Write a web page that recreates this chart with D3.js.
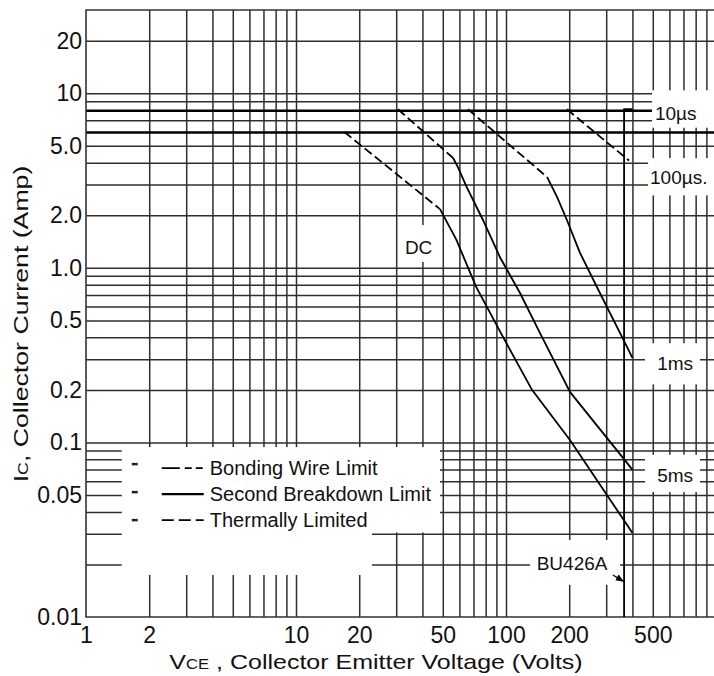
<!DOCTYPE html>
<html>
<head>
<meta charset="utf-8">
<script src="https://cdn.jsdelivr.net/npm/d3@7"></script>
<style>
body { margin: 0; background: #fff; }
text { font-family: "Liberation Sans", Arial, sans-serif; fill: #111; }
</style>
</head>
<body>
<div id="chart-area"></div>
<script>

// Data

var xTickValues = [1, 2, 10, 20, 50, 100, 200, 500];
var yTickValues = [20, 10, 5, 2, 1, 0.5, 0.2, 0.1, 0.05, 0.01];
var yTickLabels = ["20", "10", "5.0", "2.0", "1.0", "0.5", "0.2", "0.1", "0.05", "0.01"];

var xGrid = [2, 3, 4, 5, 6, 7, 8, 9, 10, 20, 30, 40, 50, 60, 70, 80, 90, 100,
    200, 300, 400, 500, 600, 700, 800, 900];
var yGrid = [0.02, 0.03, 0.04, 0.05, 0.06, 0.07, 0.08, 0.09,
    0.1, 0.2, 0.3, 0.4, 0.5, 0.6, 0.7, 0.8, 0.9,
    1, 2, 3, 4, 5, 6, 7, 8, 9, 10, 20];
var yGridHeavy = [6, 8];

// [VCE, IC] points of each limit segment
var dcThermal = [[17, 6], [48.5, 2.17]];
var dcSecond = [[48.5, 2.17], [58, 1.45], [72, 0.78], [97, 0.40], [133, 0.2], [202, 0.103], [372, 0.0345], [400, 0.0303]];
var ms5Thermal = [[30.6, 8.1], [56, 4.26]];
var ms5Second = [[56, 4.26], [59, 3.78], [65, 2.9], [77.7, 1.88], [93.6, 1.15], [116.6, 0.718], [145, 0.424], [202, 0.194], [377, 0.0763], [400, 0.0696]];
var ms1Thermal = [[65.9, 8.1], [157, 3.31]];
var ms1Second = [[157, 3.31], [175, 2.55], [195, 1.88], [225, 1.22], [280, 0.718], [349, 0.424], [400, 0.305]];
var us100Thermal = [[195, 8.1], [385, 4.12]];
var bu426aLimit = [[400, 8.1], [365, 8.1], [365, 0.01]];

var curveLabels = ["10\u00b5s", "100\u00b5s.", "1ms", "5ms", "DC", "BU426A"];
var legendLabels = ["Bonding Wire Limit", "Second Breakdown Limit", "Thermally Limited"];


// SVG drawing area

var margin = {top: 10, left: 86};
var width = 630,
    height = 607;

var svg = d3.select("#chart-area").append("svg")
    .attr("width", 714)
    .attr("height", 676)
    .style("display", "block");

svg.append("rect")
    .attr("width", 714)
    .attr("height", 676)
    .attr("fill", "#fff");

var g = svg.append("g")
    .attr("transform", "translate(" + margin.left + "," + margin.top + ")");


// Scales
var x = d3.scaleLog()
    .domain([1, 1000])
    .range([0, width]);

var y = d3.scaleLog()
    .domain([0.01, 30])
    .range([height, 0]);


// Grid
var xGridGroup = g.append("g")
    .attr("class", "grid")
    .attr("transform", "translate(0," + height + ")")
    .call(d3.axisBottom(x).tickValues(xGrid).tickSize(-height).tickFormat(""));
xGridGroup.select(".domain").remove();

var yGridGroup = g.append("g")
    .attr("class", "grid")
    .call(d3.axisLeft(y).tickValues(yGrid).tickSize(-width).tickFormat(""));
yGridGroup.select(".domain").remove();

g.selectAll(".grid line")
    .attr("stroke", "#2e2e2e")
    .attr("stroke-width", 1.5);

yGridGroup.selectAll(".tick")
    .filter(function(d) { return yGridHeavy.indexOf(d) >= 0; })
    .select("line")
    .attr("stroke", "#000")
    .attr("stroke-width", 2.4);


// Blank patches behind the labels and the legend  [v0, v1, i0, i1]
var blanks = [
    [496, 1000, 10.4, 6.35],    // 10us
    [475, 1000, 4.25, 2.6],     // 100us
    [459, 839, 0.37, 0.215],    // 1ms
    [459, 839, 0.085, 0.052],   // 5ms
    [32, 46, 1.76, 1.08],       // DC
    [130, 349, 0.0276, 0.0153], // BU426A
    [1.48, 48.5, 0.094, 0.0305],// legend
    [1.48, 23, 0.031, 0.0174]   // legend, lower part
];

g.selectAll(".blank")
    .data(blanks)
    .enter().append("rect")
    .attr("class", "blank")
    .attr("x", function(d) { return x(d[0]); })
    .attr("y", function(d) { return y(d[2]); })
    .attr("width", function(d) { return x(d[1]) - x(d[0]); })
    .attr("height", function(d) { return y(d[3]) - y(d[2]); })
    .attr("fill", "#fff");


// Frame
g.append("path")
    .attr("d", "M" + x(1000) + "," + y(30) + "H" + x(1) + "V" + y(0.01) + "H" + x(1000))
    .attr("fill", "none")
    .attr("stroke", "#333")
    .attr("stroke-width", 1.6);


// Limit curves
var line = d3.line()
    .x(function(d) { return x(d[0]); })
    .y(function(d) { return y(d[1]); });

var curves = [
    {pts: dcThermal, kind: "thermal"},
    {pts: dcSecond, kind: "second"},
    {pts: ms5Thermal, kind: "thermal"},
    {pts: ms5Second, kind: "second"},
    {pts: ms1Thermal, kind: "thermal"},
    {pts: ms1Second, kind: "second"},
    {pts: us100Thermal, kind: "thermal"},
    {pts: bu426aLimit, kind: "second"}
];

g.selectAll(".curve")
    .data(curves)
    .enter().append("path")
    .attr("class", "curve")
    .attr("d", function(d) { return line(d.pts); })
    .attr("fill", "none")
    .attr("stroke", "#000")
    .attr("stroke-width", 1.8)
    .attr("stroke-dasharray", function(d) { return d.kind == "thermal" ? "9,4" : null; });


// Curve labels
var labelV = [512, 485, 525, 525, 33, 140];
var labelI = [7.7, 3.31, 0.285, 0.065, 1.32, 0.0204];

g.selectAll(".curve-label")
    .data(curveLabels)
    .enter().append("text")
    .attr("class", "curve-label")
    .attr("x", function(d, i) { return x(labelV[i]); })
    .attr("y", function(d, i) { return y(labelI[i]); })
    .attr("dy", "0.36em")
    .style("font-size", "19px")
    .text(function(d) { return d; });

// BU426A pointer
svg.append("defs").append("marker")
    .attr("id", "arrow")
    .attr("viewBox", "0 0 10 10")
    .attr("refX", 10).attr("refY", 5)
    .attr("markerWidth", 7).attr("markerHeight", 7)
    .attr("orient", "auto")
    .append("path")
    .attr("d", "M0,1L10,5L0,9Z")
    .attr("fill", "#000");

g.append("path")
    .attr("d", line([[323, 0.0174], [365, 0.0159]]))
    .attr("stroke", "#000")
    .attr("stroke-width", 1.2)
    .attr("marker-end", "url(#arrow)");


// Legend
var lx = x(1.48),
    ly = y(0.094);
var legendDash = ["18,5,7,4,7,4", null, "12,5"];

var legend = g.selectAll(".legend")
    .data(legendLabels)
    .enter().append("g")
    .attr("class", "legend")
    .attr("transform", function(d, i) { return "translate(" + lx + "," + (ly + 21 + i * 26) + ")"; });

legend.append("line")
    .attr("x1", 10).attr("x2", 16)
    .attr("y1", function(d, i) { return i * 2 - 4; })
    .attr("y2", function(d, i) { return i * 2 - 4; })
    .attr("stroke", "#222")
    .attr("stroke-width", 2.5);

legend.append("line")
    .attr("x1", 40).attr("x2", 82)
    .attr("y1", 0).attr("y2", 0)
    .attr("stroke", "#000")
    .attr("stroke-width", function(d, i) { return i == 1 ? 2.4 : 1.8; })
    .attr("stroke-dasharray", function(d, i) { return legendDash[i]; });

legend.append("text")
    .attr("x", 88)
    .attr("dy", "0.36em")
    .style("font-size", "20px")
    .text(function(d) { return d; });


// Axis labels
var xAxisGroup = g.append("g")
    .attr("class", "x-axis axis")
    .attr("transform", "translate(0," + height + ")")
    .call(d3.axisBottom(x).tickValues(xTickValues).tickSize(0).tickPadding(10)
        .tickFormat(function(d) { return d; }));
xAxisGroup.select(".domain").remove();

var yAxisGroup = g.append("g")
    .attr("class", "y-axis axis")
    .call(d3.axisLeft(y).tickValues(yTickValues).tickSize(0).tickPadding(4)
        .tickFormat(function(d, i) { return yTickLabels[i]; }));
yAxisGroup.select(".domain").remove();

g.selectAll(".axis text")
    .style("font-size", "23px")
    .attr("fill", "#111");

// Axis titles
var xAxisTitle = svg.append("text")
    .attr("class", "axis-title")
    .attr("text-anchor", "middle")
    .attr("transform", "translate(376,669) scale(1.19,1)")
    .style("font-size", "21px");
xAxisTitle.append("tspan").text("V");
xAxisTitle.append("tspan").style("font-size", "14px").text("CE");
xAxisTitle.append("tspan").text(" , Collector Emitter Voltage (Volts)");

var yAxisTitle = svg.append("text")
    .attr("class", "axis-title")
    .attr("text-anchor", "middle")
    .attr("transform", "translate(28,324) rotate(-90) scale(1.27,1)")
    .style("font-size", "21px");
yAxisTitle.append("tspan").text("I");
yAxisTitle.append("tspan").style("font-size", "14px").text("C");
yAxisTitle.append("tspan").text(", Collector Current (Amp)");

</script>
</body>
</html>
